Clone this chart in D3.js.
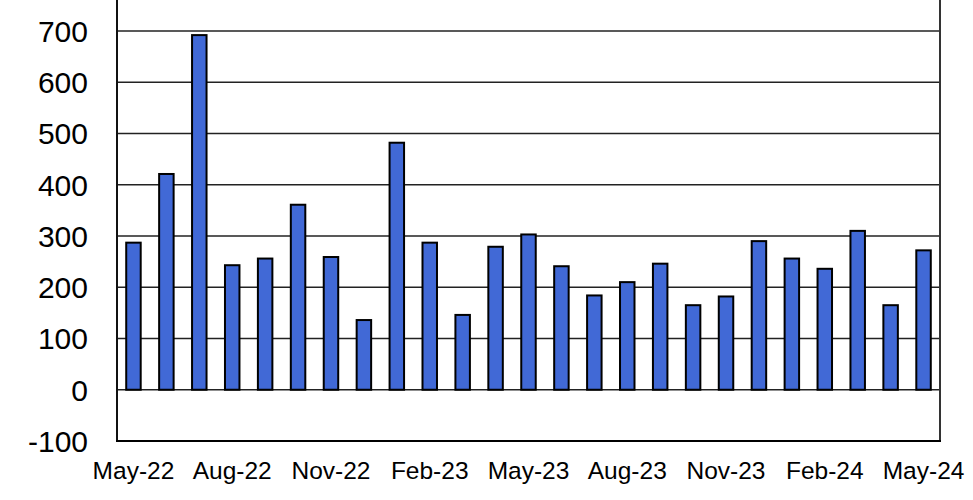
<!DOCTYPE html>
<html>
<head>
<meta charset="utf-8">
<script src="https://cdn.jsdelivr.net/npm/d3@7"></script>
<style>
  body { margin: 0; background: #fff; }
  text { font-family: "Liberation Sans", Arial, sans-serif; fill: #000; }
</style>
</head>
<body>
<div id="chart"></div>
<script>
// Data
const months = ["May-22","Jun-22","Jul-22","Aug-22","Sep-22","Oct-22","Nov-22","Dec-22",
    "Jan-23","Feb-23","Mar-23","Apr-23","May-23","Jun-23","Jul-23","Aug-23","Sep-23","Oct-23",
    "Nov-23","Dec-23","Jan-24","Feb-24","Mar-24","Apr-24","May-24"];
const values = [287, 421, 692, 243, 256, 361, 259, 136, 482, 287, 146, 279, 303,
    241, 184, 210, 246, 165, 182, 290, 256, 236, 310, 165, 272];
const yTicks = [-100, 0, 100, 200, 300, 400, 500, 600, 700];
const xTickLabels = ["May-22","Aug-22","Nov-22","Feb-23","May-23","Aug-23","Nov-23","Feb-24","May-24"];

// Constants
const width = 973;
const height = 500;
const plot = {left: 117, right: 940, bottom: 441, top: 0};
const barColor = "#4169d6";

const svg = d3.select("#chart")
    .append("svg")
    .attr("width", width)
    .attr("height", height);

const x = d3.scaleBand()
    .domain(months)
    .range([plot.left, plot.right])
    .paddingInner(0.56)
    .paddingOuter(0.28);

const y = d3.scaleLinear()
    .domain([-100, 700])
    .range([plot.bottom, 31]);

// gridlines
svg.append("g")
    .selectAll("line")
    .data(yTicks.filter(d => d > -100))
    .enter()
    .append("line")
    .attr("x1", plot.left)
    .attr("x2", plot.right)
    .attr("y1", d => y(d))
    .attr("y2", d => y(d))
    .attr("stroke", "#222")
    .attr("stroke-width", 1.3);

// bars
svg.append("g")
    .selectAll("rect")
    .data(values)
    .enter()
    .append("rect")
    .attr("x", (d, i) => x(months[i]))
    .attr("width", x.bandwidth())
    .attr("y", d => y(Math.max(0, d)))
    .attr("height", d => Math.abs(y(d) - y(0)))
    .attr("fill", barColor)
    .attr("stroke", "#000")
    .attr("stroke-width", 2);

// frame
svg.append("line")
    .attr("x1", plot.left).attr("x2", plot.left)
    .attr("y1", plot.top).attr("y2", plot.bottom)
    .attr("stroke", "#111").attr("stroke-width", 2);
svg.append("line")
    .attr("x1", plot.right).attr("x2", plot.right)
    .attr("y1", plot.top).attr("y2", plot.bottom)
    .attr("stroke", "#333").attr("stroke-width", 2);
svg.append("line")
    .attr("x1", plot.left - 1).attr("x2", plot.right + 1)
    .attr("y1", plot.bottom).attr("y2", plot.bottom)
    .attr("stroke", "#000").attr("stroke-width", 2);

// y labels
svg.append("g")
    .selectAll("text")
    .data(yTicks)
    .enter()
    .append("text")
    .attr("x", 88)
    .attr("y", d => y(d))
    .attr("dy", "0.36em")
    .attr("text-anchor", "end")
    .style("font-size", "30px")
    .text(d => d);

// x labels
svg.append("g")
    .selectAll("text")
    .data(xTickLabels)
    .enter()
    .append("text")
    .attr("x", d => x(d) + x.bandwidth() / 2)
    .attr("y", 479)
    .attr("text-anchor", "middle")
    .style("font-size", "24.5px")
    .text(d => d);
</script>
</body>
</html>
